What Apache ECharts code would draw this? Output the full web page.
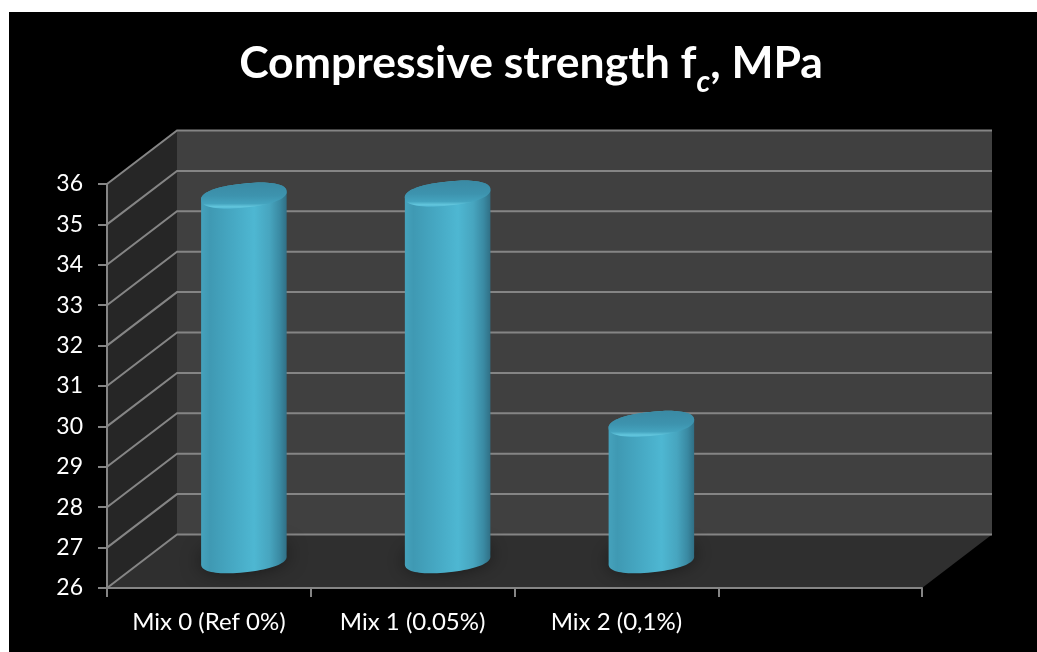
<!DOCTYPE html>
<html>
<head>
<meta charset="utf-8">
<title>Compressive strength</title>
<style>
  html, body { margin: 0; height: 100%; background: #fff; overflow: hidden; }
  #chart { position: absolute; left: 9px; top: 12px; width: 1028px; height: 640px; }
</style>
<script src="https://cdn.jsdelivr.net/npm/echarts@6/dist/echarts.min.js"></script>
</head>
<body>
<div id="chart"></div>
<script>
// Chart data
const categories = ['Mix 0 (Ref 0%)', 'Mix 1 (0.05%)', 'Mix 2 (0,1%)', ''];
const strengthValues = [35.05, 35.1, 29.4];
const gridTicks = [26, 27, 28, 29, 30, 31, 32, 33, 34, 35, 36];

// Fake 3D box: how far the back wall sits from the front plane
const DEPTH_X = 70;
const DEPTH_Y = 53.5;
const LINE = '#858585';

// Outline of a tilted, slightly squared-off ellipse as polygon points, for parameter t0..t1
function ellipseArc(cx, cy, a, b, tilt, t0, t1, steps) {
  const pts = [];
  const c = Math.cos(tilt), s = Math.sin(tilt);
  const round = v => Math.sign(v) * Math.pow(Math.abs(v), 0.88);
  for (let i = 0; i <= steps; i++) {
    const t = t0 + (t1 - t0) * i / steps;
    const ex = a * round(Math.cos(t)), ey = b * round(Math.sin(t));
    pts.push([cx + ex * c - ey * s, cy + ex * s + ey * c]);
  }
  return pts;
}

// Side wall, back wall and floor of the box
function renderWalls(params, api) {
  const cs = params.coordSys;
  const l = cs.x, r = cs.x + cs.width, t = cs.y, b = cs.y + cs.height;
  return {
    type: 'group',
    children: [
      { type: 'polygon', shape: { points: [[l + DEPTH_X, t - DEPTH_Y], [r + DEPTH_X, t - DEPTH_Y], [r + DEPTH_X, b - DEPTH_Y], [l + DEPTH_X, b - DEPTH_Y]] }, style: { fill: '#404040' } },
      { type: 'polygon', shape: { points: [[l, t], [l + DEPTH_X, t - DEPTH_Y], [l + DEPTH_X, b - DEPTH_Y], [l, b]] }, style: { fill: '#262626' } },
      { type: 'polygon', shape: { points: [[l, b], [l + DEPTH_X, b - DEPTH_Y], [r + DEPTH_X, b - DEPTH_Y], [r, b]] }, style: { fill: '#2f2f2f' } }
    ]
  };
}

// One gridline per tick: slanted across the side wall, then level along the back wall
function renderGridline(params, api) {
  const cs = params.coordSys;
  const y = api.coord([0, api.value(0)])[1];
  const l = cs.x, r = cs.x + cs.width;
  return {
    type: 'polyline',
    shape: { points: [[l, y], [l + DEPTH_X, y - DEPTH_Y], [r + DEPTH_X, y - DEPTH_Y]] },
    style: { stroke: LINE, lineWidth: 2, fill: null }
  };
}

// Cylinder standing halfway between the front plane and the back wall
function renderCylinder(params, api) {
  const rx = 43, ry = 12, tilt = -6 * Math.PI / 180;
  const top = api.coord([api.value(0), api.value(1)]);
  const base = api.coord([api.value(0), gridTicks[0]]);
  const cx = top[0] + DEPTH_X / 2;
  const topY = top[1] - DEPTH_Y / 2;
  const baseY = base[1] - DEPTH_Y / 2 - 1;

  const lowerArc = ellipseArc(cx, baseY, rx, ry, tilt, 0, Math.PI, 40);
  const upperEnd = ellipseArc(cx, topY, rx, ry, tilt, Math.PI, 2 * Math.PI, 40);

  const bodyFill = new echarts.graphic.LinearGradient(0, 0, 1, 0, [
    { offset: 0, color: '#45a2bc' },
    { offset: 0.1, color: '#3f99b3' },
    { offset: 0.4, color: '#47aac5' },
    { offset: 0.62, color: '#4eb7d2' },
    { offset: 0.8, color: '#47a5bf' },
    { offset: 0.92, color: '#3a8aa3' },
    { offset: 1, color: '#306f85' }
  ]);
  const capFill = new echarts.graphic.LinearGradient(0, 0, 0, 1, [
    { offset: 0, color: '#3a8aa4' },
    { offset: 0.5, color: '#3d93ae' },
    { offset: 0.8, color: '#44a3be' },
    { offset: 0.93, color: '#63c7de' },
    { offset: 1, color: '#4fb4d0' }
  ]);
  const capPoints = ellipseArc(cx, topY, rx, ry, tilt, 0, 2 * Math.PI, 80);

  return {
    type: 'group',
    children: [
      {
        type: 'polygon',
        shape: { points: ellipseArc(cx, baseY - 3, rx, ry - 1, tilt, 0, 2 * Math.PI, 60) },
        style: { fill: 'rgba(24,24,24,0.7)', shadowBlur: 20, shadowColor: '#000' }
      },
      {
        type: 'polygon',
        shape: { points: upperEnd.concat(lowerArc) },
        style: { fill: bodyFill }
      },
      {
        type: 'polygon',
        shape: { points: capPoints },
        style: { fill: capFill }
      }
    ]
  };
}

const chart = echarts.init(document.getElementById('chart'), null, { renderer: 'canvas' });

chart.setOption({
  backgroundColor: '#000',
  animation: false,
  title: {
    left: 517,
    top: 14,
    textAlign: 'center',
    text: '{m|Compressive strength f}{s|c}{m|, MPa}',
    textStyle: {
      rich: {
        m: { fontFamily: 'Lato', fontWeight: 'bold', fontSize: 44.5, color: '#fff', verticalAlign: 'middle' },
        s: { fontFamily: 'Lato', fontWeight: 'bold', fontStyle: 'italic', fontSize: 30, color: '#fff', padding: [36, 0, 0, 0] }
      }
    }
  },
  grid: { left: 98, top: 172, width: 815, height: 404, containLabel: false },
  xAxis: {
    type: 'category',
    data: categories,
    z: 3,
    axisLine: { lineStyle: { color: LINE, width: 2 } },
    axisTick: { show: true, alignWithLabel: false, interval: 0, length: 9, lineStyle: { color: LINE, width: 2 } },
    axisLabel: { interval: 0, color: '#fff', fontFamily: 'Lato', fontSize: 24, margin: 22 },
    splitLine: { show: false }
  },
  yAxis: {
    type: 'value',
    min: 26,
    max: 36,
    interval: 1,
    z: 3,
    axisLine: { show: true, lineStyle: { color: LINE, width: 2 } },
    axisTick: { show: true, length: 9, lineStyle: { color: LINE, width: 2 } },
    axisLabel: { color: '#fff', fontFamily: 'Lato', fontSize: 23, margin: 24 },
    splitLine: { show: false }
  },
  series: [
    { type: 'custom', name: 'walls', z: 1, silent: true, renderItem: renderWalls, data: [0], clip: false },
    { type: 'custom', name: 'gridlines', z: 2, silent: true, renderItem: renderGridline, data: gridTicks.map(v => [v]), encode: { y: 0 }, clip: false },
    {
      type: 'custom',
      name: 'Compressive strength',
      z: 4,
      renderItem: renderCylinder,
      data: strengthValues.map((v, i) => [i, v]),
      encode: { x: 0, y: 1 },
      clip: false
    }
  ]
});
</script>
</body>
</html>
